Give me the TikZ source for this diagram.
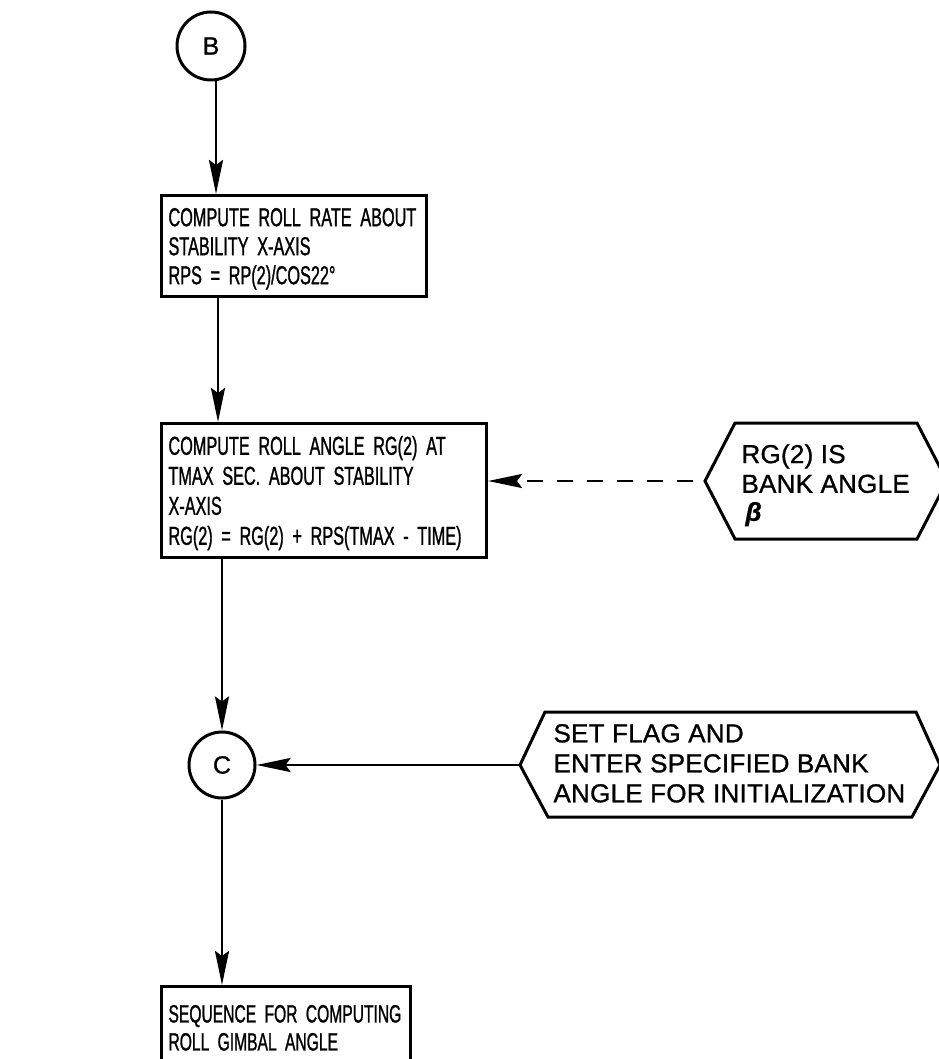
\documentclass[tikz,border=0pt]{standalone}
\usepackage{fontspec}
\setmainfont{Liberation Sans}
\newfontfamily\boxfont[FakeStretch=0.625,WordSpace=0.6,FakeBold=1]{Liberation Sans}
\newfontfamily\hexfont[LetterSpace=1,FakeBold=1]{Liberation Sans}
\newcommand{\lstrut}[2]{\rule[-#2pt]{0pt}{#1pt}}
\usetikzlibrary{arrows.meta,calc}
\begin{document}
\begin{tikzpicture}[x=1pt,y=-1pt,
  line width=3pt,
  conn/.style={line width=2.8pt,-{Stealth[length=34pt,width=14pt,inset=5pt]}},
  proc/.style={draw,rectangle,anchor=north west,inner xsep=7pt,inner ysep=0pt,align=left,
    font=\boxfont\fontsize{26}{29}\selectfont},
  conncirc/.style={draw,circle,minimum size=68pt,inner sep=0pt,font=\hexfont\fontsize{25}{25}\selectfont},
  hexline/.style={line width=3pt,line join=miter},
  hextext/.style={anchor=west,inner sep=0pt,align=left,font=\hexfont\fontsize{26}{28}\selectfont},
]
\useasboundingbox (0,0) rectangle (938,1059);
\fill[white] (0,0) rectangle (938,1059);

% connector circles
\node[conncirc] (B) at (211,46) {B};
\node[conncirc, minimum size=66pt] (C) at (222,765) {C};

% process boxes
\node[proc, minimum width=265pt, minimum height=101pt, text width=251pt] (box1) at (160,194)
  {\lstrut{29}{5.2}\mbox{COMPUTE ROLL RATE ABOUT}\\
   \lstrut{29}{5.2}\mbox{STABILITY X-AXIS}\\
   \lstrut{29}{5.2}\mbox{RPS = RP(2)/COS22°}};
\node[proc, minimum width=325pt, minimum height=134pt, text width=311pt,
  font=\boxfont\fontsize{26}{30}\selectfont] (box2) at (160,422)
  {\lstrut{30}{5.7}\mbox{COMPUTE ROLL ANGLE RG(2) AT}\\
   \lstrut{30}{5.7}\mbox{TMAX SEC. ABOUT STABILITY}\\
   \lstrut{30}{5.7}\mbox{X-AXIS}\\
   \lstrut{30}{5.7}\mbox{RG(2) = RG(2) + RPS(TMAX - TIME)}};
\node[proc, minimum width=249pt, minimum height=82pt, text width=235pt,
  font=\boxfont\fontsize{25}{28}\selectfont] (box3) at (160,985)
  {\lstrut{28}{5.05}\mbox{SEQUENCE FOR COMPUTING}\\
   \lstrut{28}{5.05}\mbox{ROLL GIMBAL ANGLE}};

% annotation hexagons
\coordinate (h1tip) at (705,481);
\draw[hexline] (h1tip) -- (735,423) -- (917,423) -- (947,481) -- (917,539) -- (735,539) -- cycle;
\node[hextext] (h1text) at (740,483)
  {\lstrut{28}{4.7}RG(2) IS\\
   \lstrut{28}{4.7}BANK ANGLE\\
   \lstrut{28}{4.7}\hspace{4pt}{\bfseries\itshape β}};

\coordinate (h2tip) at (520,765);
\draw[hexline] (h2tip) -- (545,712) -- (916,712) -- (940,765) -- (912,817) -- (548,817) -- cycle;
\node[hextext, font=\hexfont\fontsize{26}{30}\selectfont] (h2text) at (552,763)
  {\lstrut{30}{5.7}SET FLAG AND\\
   \lstrut{30}{5.7}ENTER SPECIFIED BANK\\
   \lstrut{30}{5.7}ANGLE FOR INITIALIZATION};

% connectors
\coordinate (b1) at ($(B.south)+(5,0)$);
\draw[conn] (b1) -- (b1 |- box1.north);
\coordinate (a2) at ($(box1.south west)+(58,0)$);
\draw[conn] (a2) -- (a2 |- box2.north);
\draw[conn] (C.north |- box2.south) -- (C.north);
\draw[conn] (C.south) -- (C.south |- box3.north);
\draw[conn] (h2tip) -- (C.east);
\draw[conn, dash pattern=on 16pt off 14pt, shorten <=12pt] (h1tip) -- (h1tip -| box2.east);
\end{tikzpicture}
\end{document}
